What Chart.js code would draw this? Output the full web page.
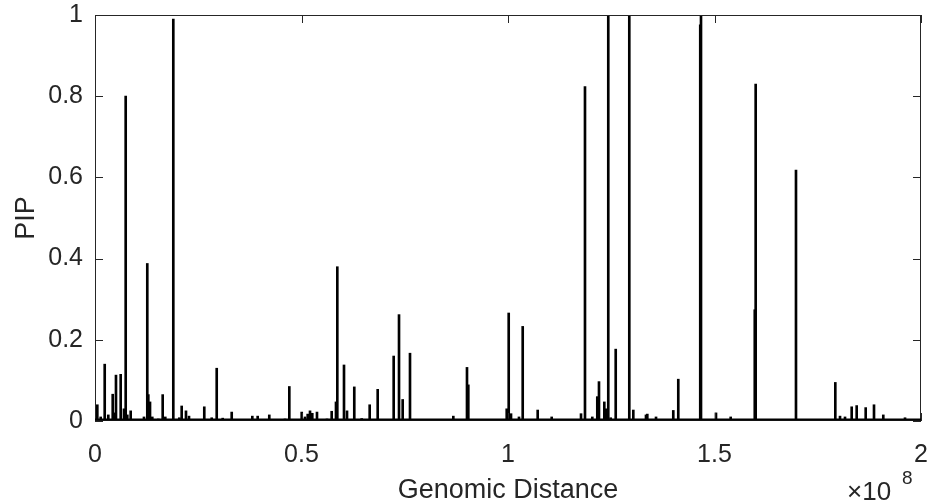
<!DOCTYPE html>
<html>
<head>
<meta charset="utf-8">
<script src="https://cdn.jsdelivr.net/npm/chart.js@4.4.0/dist/chart.umd.min.js"></script>
<style>
  html, body { margin: 0; padding: 0; background: #fff; }
  #wrap { position: relative; width: 928px; height: 504px; }
</style>
</head>
<body>
<div id="wrap"><canvas id="pipChart"></canvas></div>
<script>
// положения (Мб) и значения PIP
const positionsMb = [
  0.56, 1.38, 2.35, 3.22, 4.29, 4.77, 5.08, 6.22, 7.02, 7.43,
  7.82, 8.64, 11.86, 12.66, 12.91, 13.32, 13.87, 15.33, 16.39, 17.02,
  18.96, 20.41, 20.99, 22.03, 22.76, 26.46, 28.26, 29.47, 30.92, 33.10,
  36.32, 38.09, 39.39, 42.20, 46.00, 47.05, 50.05, 50.85, 51.50, 52.06,
  52.61, 53.75, 56.17, 57.31, 58.35, 58.67, 60.29, 61.02, 62.78, 64.58,
  66.51, 68.45, 70.22, 72.32, 72.88, 73.61, 74.50, 76.27, 86.76, 90.07,
  90.39, 94.19, 99.69, 100.17, 100.73, 102.66, 103.56, 107.19, 110.58, 117.68,
  118.64, 120.41, 121.62, 122.03, 123.32, 123.73, 124.28, 124.86, 126.08, 129.37,
  130.34, 133.41, 133.73, 135.84, 140.02, 141.23, 146.55, 146.73, 150.36, 153.92,
  159.75, 159.97, 169.73, 179.25, 180.39, 181.60, 183.22, 184.43, 186.61, 188.62,
  190.87, 196.13
];
const pipValues = [
  0.04, 0.01, 0.14, 0.015, 0.066, 0.02, 0.113, 0.115, 0.03, 0.80,
  0.015, 0.025, 0.01, 0.388, 0.065, 0.047, 0.01, 0.005, 0.065, 0.01,
  0.99, 0.008, 0.037, 0.025, 0.012, 0.035, 0.008, 0.13, 0.007, 0.022,
  0.003, 0.012, 0.012, 0.015, 0.005, 0.085, 0.022, 0.01, 0.017, 0.025,
  0.019, 0.022, 0.005, 0.024, 0.047, 0.38, 0.138, 0.025, 0.084, 0.006,
  0.04, 0.078, 0.003, 0.16, 0.004, 0.262, 0.053, 0.167, 0.012, 0.132,
  0.089, 0.003, 0.03, 0.266, 0.018, 0.01, 0.233, 0.027, 0.01, 0.018,
  0.824, 0.01, 0.06, 0.097, 0.047, 0.03, 1.0, 0.008, 0.177, 1.0,
  0.027, 0.015, 0.017, 0.01, 0.026, 0.103, 0.976, 1.0, 0.02, 0.01,
  0.274, 0.83, 0.618, 0.095, 0.012, 0.01, 0.035, 0.038, 0.033, 0.04,
  0.015, 0.008
];
const xTicks = [0, 0.5e8, 1e8, 1.5e8, 2e8];
const yTicks = [0, 0.2, 0.4, 0.6, 0.8, 1];

const FONT = '"Liberation Sans", Arial, sans-serif';
const TEXT = '#262626';

// рамка и внутренние риски как в MATLAB
const boxPlugin = {
  id: 'matlabBox',
  afterDraw(chart) {
    const { ctx, chartArea: a, scales: { x, y } } = chart;
    ctx.save();
    ctx.strokeStyle = TEXT;
    ctx.lineWidth = 1;
    ctx.strokeRect(a.left + 0.5, a.top + 0.5, a.right - a.left - 1, a.bottom - a.top - 1);
    const len = 8;
    ctx.beginPath();
    xTicks.forEach(v => {
      const px = Math.round(x.getPixelForValue(v)) + 0.5;
      ctx.moveTo(px, a.bottom); ctx.lineTo(px, a.bottom - len);
      ctx.moveTo(px, a.top); ctx.lineTo(px, a.top + len);
    });
    yTicks.forEach(v => {
      const py = Math.round(y.getPixelForValue(v)) + 0.5;
      ctx.moveTo(a.left, py); ctx.lineTo(a.left + len, py);
      ctx.moveTo(a.right, py); ctx.lineTo(a.right - len, py);
    });
    ctx.stroke();

    // линия около нуля (данные почти на нуле)
    ctx.strokeStyle = '#000';
    ctx.lineWidth = 2;
    ctx.beginPath();
    ctx.moveTo(a.left, a.bottom - 1.5);
    ctx.lineTo(a.right, a.bottom - 1.5);
    ctx.stroke();

    // множитель оси x
    ctx.fillStyle = TEXT;
    ctx.textBaseline = 'alphabetic';
    ctx.font = '26px ' + FONT;
    ctx.fillText('\u00d710', 847, 500);
    ctx.font = '19px ' + FONT;
    ctx.fillText('8', 902, 484);
    ctx.restore();
  }
};

new Chart(document.getElementById('pipChart').getContext('2d'), {
  type: 'bar',
  data: {
    datasets: [{
      label: 'PIP',
      data: positionsMb.map((p, i) => ({ x: p * 1e6, y: pipValues[i] })),
      backgroundColor: '#000',
      borderWidth: 0,
      barThickness: 2,
      grouped: false
    }]
  },
  options: {
    responsive: true,
    maintainAspectRatio: false,
    animation: false,
    layout: { padding: { left: 0, right: 7, top: 15, bottom: 0 } },
    plugins: {
      legend: { display: false },
      tooltip: { enabled: false }
    },
    scales: {
      x: {
        type: 'linear',
        min: 0,
        max: 2e8,
        offset: false,
        grid: { display: false, drawTicks: false, offset: false },
        border: { display: false },
        afterBuildTicks: s => { s.ticks = xTicks.map(v => ({ value: v })); },
        afterFit: s => { s.height = 83; s.paddingLeft = 0; s.paddingRight = 0; },
        ticks: {
          padding: 19,
          color: TEXT,
          font: { family: FONT, size: 25 },
          maxRotation: 0,
          callback: v => String(v / 1e8)
        },
        title: {
          display: true,
          text: 'Genomic Distance',
          color: TEXT,
          font: { family: FONT, size: 27, lineHeight: 1.0 },
          padding: { top: 0, bottom: 0 }
        }
      },
      y: {
        min: 0,
        max: 1,
        grid: { display: false, drawTicks: false },
        border: { display: false },
        afterBuildTicks: s => { s.ticks = yTicks.map(v => ({ value: v })); },
        afterFit: s => { s.width = 95; s.paddingTop = 0; s.paddingBottom = 0; },
        ticks: {
          padding: 12,
          color: TEXT,
          font: { family: FONT, size: 25 },
          callback: v => String(v)
        },
        title: {
          display: true,
          text: 'PIP',
          color: TEXT,
          font: { family: FONT, size: 27 },
          padding: { top: 10, bottom: 0 }
        }
      }
    }
  },
  plugins: [boxPlugin]
});
</script>
</body>
</html>
